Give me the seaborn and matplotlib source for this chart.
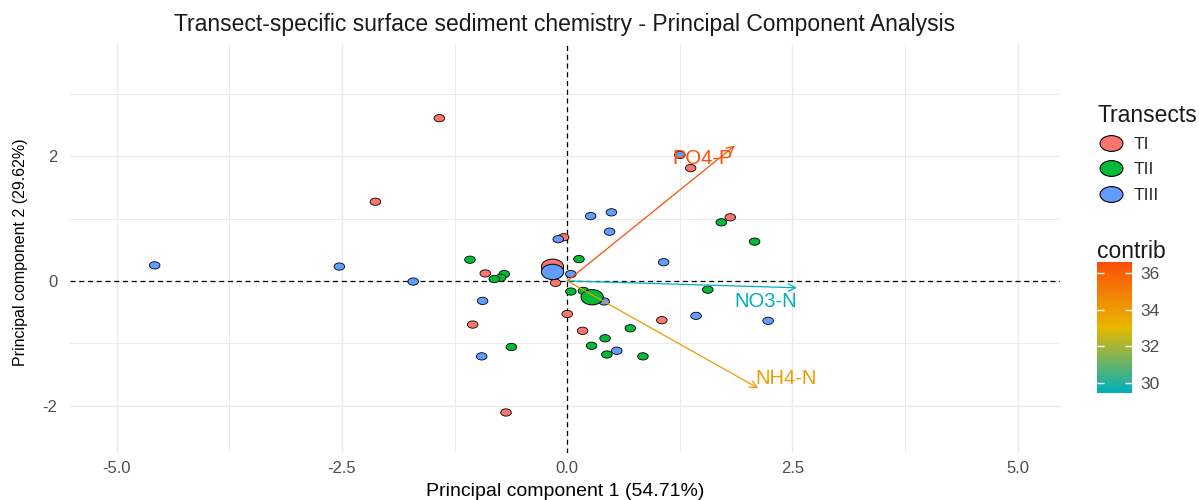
import numpy as np
import pandas as pd
import matplotlib
matplotlib.use("Agg")
import matplotlib.pyplot as plt
import seaborn as sns
from matplotlib.path import Path
from matplotlib.transforms import Affine2D
from matplotlib.colors import LinearSegmentedColormap, Normalize
from matplotlib.cm import ScalarMappable
from matplotlib.lines import Line2D

# ---------------- data ----------------
transects = ["TI", "TII", "TIII"]
transect_colors = ["#F8766D", "#00BA38", "#619CFF"]

ti_x = [-1.42, 1.37, 1.81, -0.04, -0.91, -0.13, -0.00, 1.05, -1.05, 0.17, -0.68, -2.13]
ti_y = [2.61, 1.81, 1.02, 0.70, 0.12, -0.03, -0.53, -0.63, -0.70, -0.80, -2.11, 1.27]

tii_x = [1.71, 2.08, 0.13, -1.08, -0.70, -0.74, -0.81, 0.04, 0.18, 1.56, 0.70, 0.42, 0.27, 0.44, 0.84, -0.62]
tii_y = [0.94, 0.63, 0.35, 0.34, 0.11, 0.05, 0.03, -0.17, -0.16, -0.14, -0.76, -0.92, -1.04, -1.18, -1.21, -1.06]

tiii_x = [1.25, 0.26, 0.49, 0.47, -0.10, 1.07, -1.71, 0.04, 0.41, 1.43, 2.23, -0.94, 0.55, -0.95, -4.58, -2.53]
tiii_y = [2.02, 1.04, 1.10, 0.79, 0.67, 0.30, -0.01, 0.11, -0.33, -0.56, -0.64, -0.32, -1.12, -1.21, 0.25, 0.23]

var_names = ["PO4-P", "NO3-N", "NH4-N"]
var_x = [1.86, 2.55, 2.12]
var_y = [2.17, -0.11, -1.72]
var_contrib = [36.6, 29.45, 33.95]
label_x = [1.50, 2.20, 2.43]
label_y = [1.96, -0.33, -1.56]

contrib_ticks = [30, 32, 34, 36]
x_ticks = [-5.0, -2.5, 0.0, 2.5, 5.0]
x_tick_labels = ["-5.0", "-2.5", "0.0", "2.5", "5.0"]
x_minor = [-3.75, -1.25, 1.25, 3.75]
y_ticks = [-2, 0, 2]
y_tick_labels = ["-2", "0", "2"]
y_minor = [-1, 1, 3]

title = "Transect-specific surface sediment chemistry - Principal Component Analysis"
xlabel = "Principal component 1 (54.71%)"
ylabel = "Principal component 2 (29.62%)"

# ---------------- build frames ----------------
df = pd.concat([
    pd.DataFrame({"PC1": ti_x, "PC2": ti_y, "Transect": "TI"}),
    pd.DataFrame({"PC1": tii_x, "PC2": tii_y, "Transect": "TII"}),
    pd.DataFrame({"PC1": tiii_x, "PC2": tiii_y, "Transect": "TIII"}),
], ignore_index=True)
centroids = df.groupby("Transect", sort=False)[["PC1", "PC2"]].mean().reset_index()

sns.set_style("white")
plt.rcParams["font.family"] = ["Liberation Sans", "DejaVu Sans"]

W, H = 1199, 500
fig = plt.figure(figsize=(W / 100, H / 100), dpi=100)
ax = fig.add_axes([70 / W, 1 - 453 / H, 990 / W, 409 / H])

# ellipse marker (reference is horizontally stretched)
ell = Path.unit_circle().transformed(Affine2D().scale(1.45, 1.0))

palette = dict(zip(transects, transect_colors))

ax.axhline(0, color="black", ls=(0, (4, 3)), lw=0.9, zorder=1)
ax.axvline(0, color="black", ls=(0, (4, 3)), lw=0.9, zorder=1)

sns.scatterplot(data=df, x="PC1", y="PC2", hue="Transect", hue_order=transects,
                palette=palette, marker=ell, s=58, edgecolor="black", linewidth=0.6,
                legend=False, ax=ax, zorder=2)
sns.scatterplot(data=centroids, x="PC1", y="PC2", hue="Transect", hue_order=transects,
                palette=palette, marker=ell, s=256, edgecolor="black", linewidth=0.7,
                legend=False, ax=ax, zorder=3)

cmap = LinearSegmentedColormap.from_list("contrib", ["#00AFBB", "#E7B800", "#FC4E07"])
norm = Normalize(min(var_contrib), max(var_contrib))

for name, vx, vy, c, lx, ly in zip(var_names, var_x, var_y, var_contrib, label_x, label_y):
    col = cmap(norm(c))
    ax.annotate("", xy=(vx, vy), xytext=(0, 0),
                arrowprops=dict(arrowstyle="->", color=col, lw=0.9, mutation_scale=13,
                                shrinkA=0, shrinkB=0), zorder=4)
    ax.text(lx, ly, name, color=col, ha="center", va="center", fontsize=14.5, zorder=5)

ax.set_xlim(-5.52, 5.47)
ax.set_ylim(-2.76, 3.80)
ax.set_xticks(x_ticks)
ax.set_xticklabels(x_tick_labels)
ax.set_xticks(x_minor, minor=True)
ax.set_yticks(y_ticks)
ax.set_yticklabels(y_tick_labels)
ax.set_yticks(y_minor, minor=True)
ax.grid(which="major", color="#EBEBEB", lw=1.0)
ax.grid(which="minor", color="#EBEBEB", lw=0.7)
ax.set_axisbelow(True)
ax.tick_params(which="both", length=0, labelsize=12, labelcolor="#4D4D4D")
ax.tick_params(axis="x", pad=6)
ax.tick_params(axis="y", pad=9)
for s in ax.spines.values():
    s.set_visible(False)

ax.set_xlabel(xlabel, fontsize=14, color="black")
ax.xaxis.set_label_coords(0.5, (453 - 492) / 409)
ax.xaxis.label.set_va("center")
ax.set_ylabel(ylabel, fontsize=11.5, color="black")
ax.yaxis.set_label_coords((21 - 70) / 990, 0.49)
ax.yaxis.label.set_va("center")
ax.set_title(title, fontsize=16.5, y=(453 - 24) / 409, pad=0, va="center", color="#1A1A1A")

# legend for transects
handles = [Line2D([], [], ls="", marker=ell, markersize=16.5, markerfacecolor=c,
                  markeredgecolor="black", markeredgewidth=0.8) for c in transect_colors]
leg = fig.legend(handles, transects, title="Transects", loc="upper left",
                 bbox_to_anchor=(1097 / W, 1 - 104 / H), frameon=False,
                 fontsize=12.5, title_fontsize=16.5, labelspacing=0.58,
                 handlelength=1.6, handletextpad=0.5, borderaxespad=0, borderpad=0,
                 alignment="left")
leg.get_title().set_color("#1A1A1A")

# colourbar for contrib
cax = fig.add_axes([1097 / W, 1 - 393 / H, 35 / W, 131 / H])
cb = fig.colorbar(ScalarMappable(norm=norm, cmap=cmap), cax=cax)
cb.set_ticks(contrib_ticks)
cb.outline.set_visible(False)
cax.tick_params(length=0, labelsize=12.5, labelcolor="#4D4D4D", pad=6)
cax.hlines(contrib_ticks, 0, 0.2, color="white", lw=1)
cax.hlines(contrib_ticks, 0.8, 1.0, color="white", lw=1)
fig.text(1097 / W, 1 - 251 / H, "contrib", ha="left", va="center", fontsize=16.5, color="#1A1A1A")

fig.savefig("out.png", dpi=100)
